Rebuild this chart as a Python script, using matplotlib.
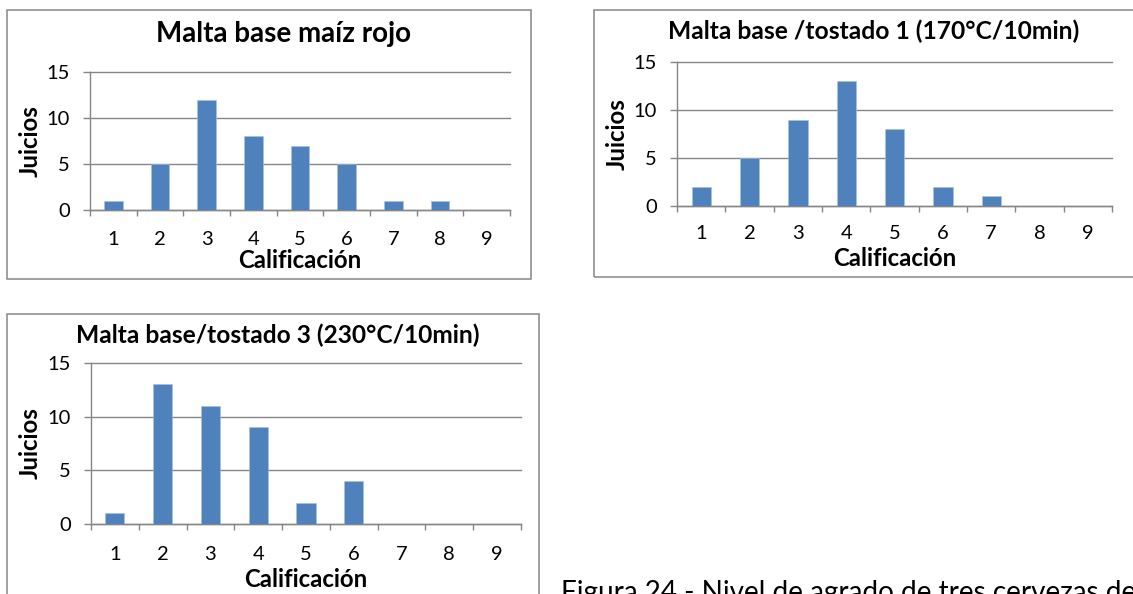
import matplotlib
matplotlib.use('Agg')
import matplotlib.pyplot as plt
from matplotlib.patches import Rectangle

# ---------------- data ----------------
categories = [1, 2, 3, 4, 5, 6, 7, 8, 9]
maiz_rojo = [1, 5, 12, 8, 7, 5, 1, 1, 0]
tostado_1 = [2, 5, 9, 13, 8, 2, 1, 0, 0]
tostado_3 = [1, 13, 11, 9, 2, 4, 0, 0, 0]
titles = ["Malta base maíz rojo",
          "Malta base /tostado 1 (170°C/10min)",
          "Malta base/tostado 3 (230°C/10min)"]
y_ticks = [0, 5, 10, 15]
x_label = "Calificación"
y_label = "Juicios"
caption = "Figura 24 - Nivel de agrado de tres cervezas de"

# ---------------- style ----------------
W, H, DPI = 1133, 594, 100
plt.rcParams['font.family'] = ['Lato', 'DejaVu Sans']
GRAY = '#868686'
BLUE = '#4F81BD'
TXT = '#000000'

fig = plt.figure(figsize=(W / DPI, H / DPI), dpi=DPI)
fig.patch.set_facecolor('white')
renderer = fig.canvas.get_renderer()


def px2pt(p):
    return p * 72.0 / DPI


def fit(t, target, dim='w'):
    bb = t.get_window_extent(renderer)
    cur = bb.width if dim == 'w' else bb.height
    t.set_fontsize(t.get_fontsize() * target / cur)


panels = [
    dict(data=maiz_rojo, title=titles[0], border=(7, 10, 531, 279),
         plot=(90, 72, 510, 210), title_x=283, title_base=42, title_w=255,
         tick_base=245, xlabel_base=268, ylabel_x=30),
    dict(data=tostado_1, title=titles[1], border=(594, 10, 1145, 277),
         plot=(677, 62, 1112, 206), title_x=874, title_base=39, title_w=411,
         tick_base=239, xlabel_base=266, ylabel_x=617),
    dict(data=tostado_3, title=titles[2], border=(7, 314, 539, 610),
         plot=(91, 363, 521, 524), title_x=278, title_base=343, title_w=403,
         tick_base=560, xlabel_base=587, ylabel_x=30),
]

for p in panels:
    bx0, by0, bx1, by1 = p['border']
    fig.patches.append(Rectangle((bx0 / W, 1 - by1 / H), (bx1 - bx0) / W, (by1 - by0) / H,
                                 transform=fig.transFigure, facecolor='none',
                                 edgecolor=GRAY, linewidth=1.1))
    x0, y0, x1, y1 = p['plot']
    ax = fig.add_axes([x0 / W, 1 - y1 / H, (x1 - x0) / W, (y1 - y0) / H])
    ax.set_facecolor('none')
    ax.bar(categories, p['data'], width=0.4, color=BLUE, edgecolor='#A7BFDE',
           linewidth=0.4, zorder=3)
    ax.set_xlim(0.5, 9.5)
    ax.set_ylim(0, 15)
    ax.set_yticks(y_ticks)
    ax.set_yticklabels([str(v) for v in y_ticks])
    ax.set_xticks(categories)
    ax.set_xticklabels([str(c) for c in categories])
    ax.set_xticks([c - 0.5 for c in categories] + [categories[-1] + 0.5], minor=True)
    ax.yaxis.grid(True, color=GRAY, linewidth=1.0, clip_on=False, zorder=1)
    ax.set_axisbelow(True)
    for s in ('top', 'right'):
        ax.spines[s].set_visible(False)
    for s in ('left', 'bottom'):
        ax.spines[s].set_color(GRAY)
        ax.spines[s].set_linewidth(1.0)
    tick_pad = px2pt(p['tick_base'] - y1)
    ax.tick_params(axis='x', which='major', length=0, pad=tick_pad,
                   labelsize=14.5, labelcolor=TXT)
    ax.tick_params(axis='x', which='minor', length=px2pt(6), width=1.0,
                   color=GRAY, direction='out')
    ax.tick_params(axis='y', which='major', length=px2pt(7), width=1.0,
                   color=GRAY, direction='out', pad=px2pt(13),
                   labelsize=14.5, labelcolor=TXT)
    for lab in ax.get_xticklabels():
        lab.set_verticalalignment('baseline')

    # axis titles
    xl = ax.set_xlabel(x_label, fontweight='bold', fontsize=14, color=TXT)
    xl.set_verticalalignment('baseline')
    ax.xaxis.set_label_coords(0.5, (y1 - p['xlabel_base']) / (y1 - y0))
    fit(xl, 124, 'w')
    yl = ax.set_ylabel(y_label, fontweight='bold', fontsize=14, color=TXT)
    yl.set_verticalalignment('center')
    ax.yaxis.set_label_coords((p['ylabel_x'] - x0) / (x1 - x0), 0.5)
    fit(yl, 72, 'h')

    # chart title
    t = fig.text(p['title_x'] / W, 1 - p['title_base'] / H, p['title'],
                 ha='center', va='baseline', fontweight='bold', fontsize=16, color=TXT)
    fit(t, p['title_w'], 'w')

cap = fig.text(561 / W, 1 - 601 / H, caption, ha='left', va='baseline',
               fontsize=17, color=TXT)
fit(cap, 575, 'w')

fig.savefig('out.png', dpi=DPI, facecolor='white')
